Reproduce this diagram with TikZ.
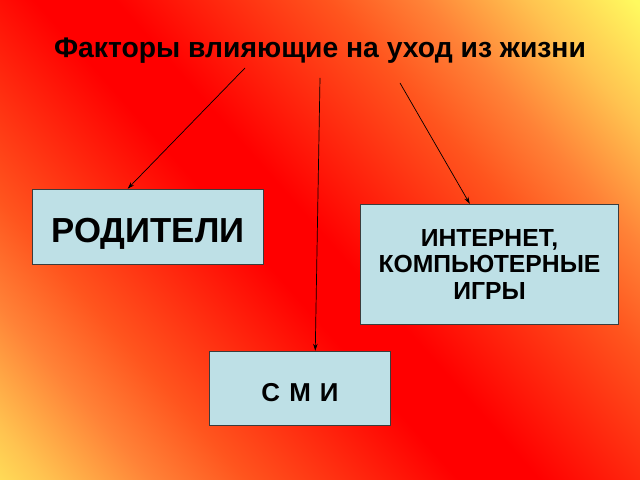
\documentclass[tikz,border=0pt]{standalone}
\usepackage{fontspec}
\setmainfont{Liberation Sans}
\usetikzlibrary{arrows.meta}

\definecolor{bgYellow}{RGB}{255,250,95}
\definecolor{bgLight}{RGB}{255,195,80}
\definecolor{bgOrange}{RGB}{255,130,55}
\definecolor{bgDeep}{RGB}{255,85,30}
\definecolor{bgRed}{RGB}{255,0,0}
\definecolor{boxFill}{RGB}{190,224,230}
\definecolor{boxEdge}{RGB}{60,60,60}

\pgfdeclarehorizontalshading{fireShade}{100bp}{color(0bp)=(bgYellow); color(29bp)=(bgYellow); color(33bp)=(bgLight); color(37bp)=(bgOrange); color(40.5bp)=(bgDeep); color(48.5bp)=(bgRed); color(51.5bp)=(bgRed); color(59.5bp)=(bgDeep); color(63bp)=(bgOrange); color(67bp)=(bgLight); color(71bp)=(bgYellow); color(100bp)=(bgYellow)}

\tikzset{
	factor/.style = {draw = boxEdge, fill = boxFill, line width = 0.8, inner sep = 0pt, align = center, font = \bfseries},
	link/.style = {-{Stealth[length = 7bp, width = 4.5bp]}, line width = 0.7}
}

\begin{document}
\begin{tikzpicture} [x = 1bp, y = 1bp]

% Background.

	\useasboundingbox (0, 0) rectangle (640, 480);
	\begin{scope}
		\clip (0, 0) rectangle (640, 480);
		\shade [shading = fireShade, shading angle = 41.5] (-213, -260) rectangle (787, 740);
	\end{scope}

	% Define coordinates.

	%arrow tails under the title
	\coordinate (leftTail) at (245, 412);
	\coordinate (midTail) at (320, 402);
	\coordinate (rightTail) at (400, 397);

% Draw title and boxes.

	\node [anchor = base, font = \bfseries\fontsize{28.4}{33}\selectfont] (title) at (320, 422) {Факторы влияющие на уход из жизни};

	\node [factor, text height = 31bp, text depth = 0pt, minimum width = 232, minimum height = 76, font = \bfseries\fontsize{34.9}{40}\selectfont] (parents) at (148, 253) {РОДИТЕЛИ};

	\node [factor, minimum width = 259, minimum height = 121, font = \bfseries\fontsize{24.8}{27}\selectfont] (internet) at (489.5, 215.5) {ИНТЕРНЕТ,\\КОМПЬЮТЕРНЫЕ\\ИГРЫ};

	\node [factor, text height = 25.6bp, text depth = 0pt, minimum width = 182, minimum height = 75, font = \bfseries\fontsize{26}{30}\selectfont] (media) at (300, 91.5) {С\hspace{0.35em}М\hspace{0.35em}И};

% Draw arrows.

	\draw [link] (leftTail) -- (parents.118);
	\draw [link] (midTail) -- (media.68);
	\draw [link] (rightTail) -- (internet.108);

\end{tikzpicture}
\end{document}
